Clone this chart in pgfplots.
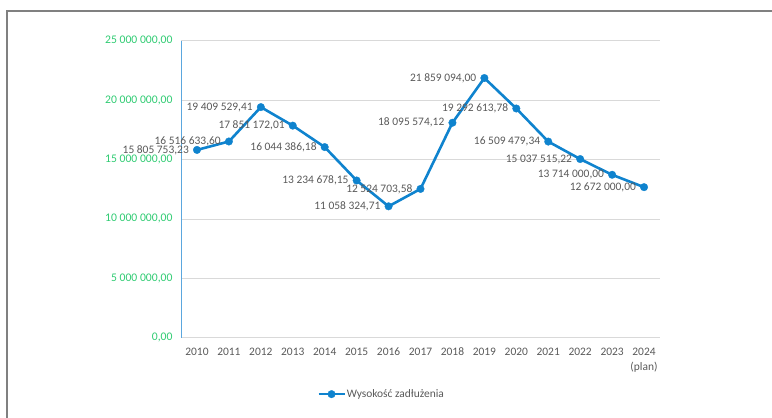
\documentclass[border=0pt]{standalone}
\usepackage{fontspec}
\setmainfont{Carlito}
\usepackage{pgfplots}
\pgfplotsset{compat=1.18}
\definecolor{lineblue}{HTML}{0F83CE}
\definecolor{axisblue}{HTML}{5BA7DE}
\definecolor{gridgray}{HTML}{D9D9D9}
\definecolor{tickgreen}{HTML}{2FCB72}
\definecolor{labelgray}{HTML}{595959}
\definecolor{framegray}{HTML}{808080}
\begin{document}
\begin{tikzpicture}[x=1bp,y=1bp]
\useasboundingbox (0,0) rectangle (772,417);
\draw[framegray, line width=2.5bp] (7,-20) -- (7,406) -- (800,406);
\begin{axis}[
  at={(181bp,79.3bp)}, anchor=south west,
  scale only axis, width=479bp, height=297bp,
  xmin=-0.5, xmax=14.5, ymin=0, ymax=25000000,
  scaled y ticks=false,
  /pgf/number format/assume math mode=true,
  axis x line=bottom, axis y line=left,
  axis line style={-},
  x axis line style={draw=gridgray, line width=0.8bp},
  y axis line style={draw=axisblue, line width=0.8bp},
  major tick length=0pt,
  ymajorgrids, grid style={draw=gridgray, line width=0.8bp},
  ytick={0,5000000,10000000,15000000,20000000,25000000},
  yticklabels={{\mbox{0,00}},{\mbox{5 000 000,00}},{\mbox{10 000 000,00}},{\mbox{15 000 000,00}},{\mbox{20 000 000,00}},{\mbox{25 000 000,00}}},
  yticklabel style={text=tickgreen, font=\fontsize{11.7}{13}\selectfont, xshift=-5bp},
  xtick={0,...,14},
  xticklabels={\strut 2010,\strut 2011,\strut 2012,\strut 2013,\strut 2014,\strut 2015,\strut 2016,\strut 2017,\strut 2018,\strut 2019,\strut 2020,\strut 2021,\strut 2022,\strut 2023,{\strut 2024\\(plan)}},
  xticklabel style={text=labelgray, align=center, font=\fontsize{11.5}{14.5}\selectfont, anchor=north, yshift=-4.5bp},
  nodes near coords,
  point meta=explicit symbolic,
  nodes near coords style={anchor=east, xshift=-8bp, text=labelgray, font=\fontsize{11.5}{13}\selectfont, inner sep=0pt},
  clip=false,
  legend style={at={(0.284,-0.19)}, anchor=west, draw=none, fill=none, font=\fontsize{11.5}{13}\selectfont, text=labelgray, inner sep=0pt, nodes={inner sep=1bp}},
  legend image code/.code={\draw[mark repeat=2,mark phase=2,#1] plot coordinates {(0bp,0bp) (13bp,0bp) (26bp,0bp)};},
]
\addplot[color=lineblue, line width=2.6bp, mark=*, mark size=3.8bp, mark options={solid, fill=lineblue, draw=lineblue, line width=0.3bp}] coordinates {
(0,15805753.23) [15 805 753,23]
(1,16516633.60) [16 516 633,60]
(2,19409529.41) [19 409 529,41]
(3,17851172.01) [17 851 172,01]
(4,16044386.18) [16 044 386,18]
(5,13234678.15) [13 234 678,15]
(6,11058324.71) [11 058 324,71]
(7,12524703.58) [12 524 703,58]
(8,18095574.12) [18 095 574,12]
(9,21859094.00) [21 859 094,00]
(10,19292613.78) [19 292 613,78]
(11,16509479.34) [16 509 479,34]
(12,15037515.22) [15 037 515,22]
(13,13714000.00) [13 714 000,00]
(14,12672000.00) [12 672 000,00]
};
\addlegendentry{Wysokość zadłużenia}
\end{axis}
\end{tikzpicture}
\end{document}
